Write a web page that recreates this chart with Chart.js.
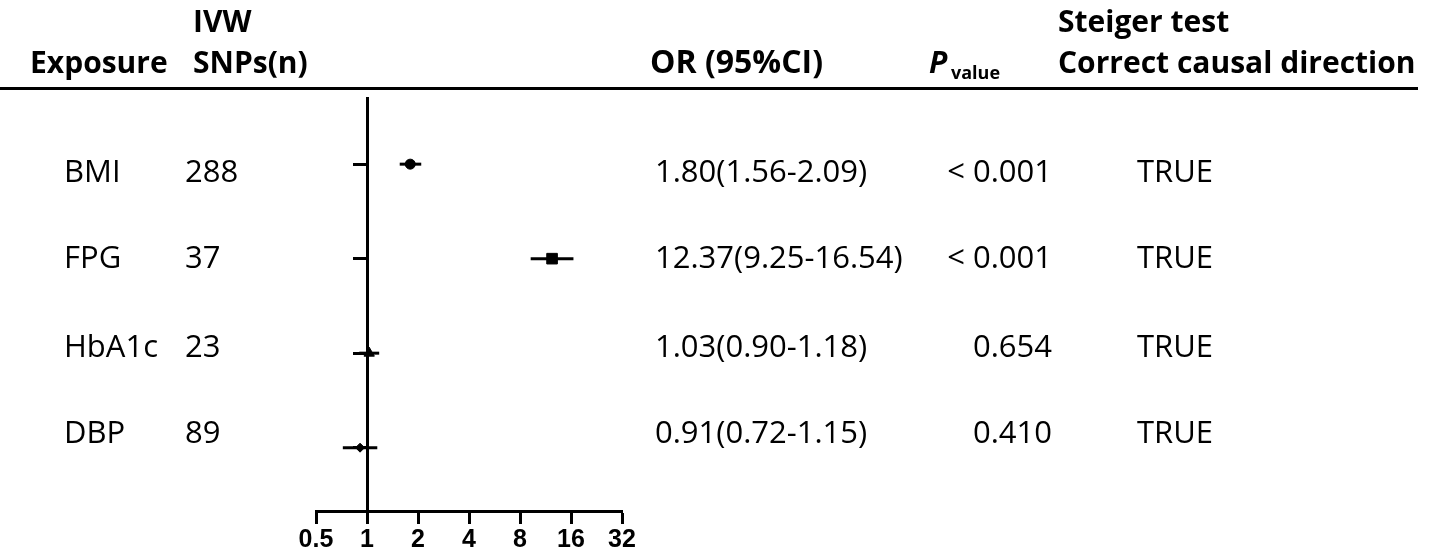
<!DOCTYPE html>
<html>
<head>
<meta charset="utf-8">
<script src="https://cdn.jsdelivr.net/npm/chart.js@4/dist/chart.umd.min.js"></script>
<style>
  html, body { margin: 0; padding: 0; background: #fff; }
  #wrap { position: relative; width: 1429px; height: 558px; }
</style>
</head>
<body>
<div id="wrap"><canvas id="forest"></canvas></div>
<script>
// 데이터
const exposures = ['BMI', 'FPG', 'HbA1c', 'DBP'];
const snpCounts = [288, 37, 23, 89];
const orValues = [1.80, 12.37, 1.03, 0.91];
const ciLower = [1.56, 9.25, 0.90, 0.72];
const ciUpper = [2.09, 16.54, 1.18, 1.15];
const pValues = ['< 0.001', '< 0.001', '0.654', '0.410'];
const steigerResults = ['TRUE', 'TRUE', 'TRUE', 'TRUE'];
const xTickValues = [0.5, 1, 2, 4, 8, 16, 32];

// 레이아웃 / 스타일
const BODY_FONT = '31px "Open Sans"';
const HEAD_FONT = 'bold 30px "Open Sans"';
const TEXT_BASELINES = [182, 268, 357, 443];
const markerStyles = ['circle', 'rect', 'triangle', 'rectRot'];
const markerRadius = [5, 7.5, 6, 4.5];

const rows = exposures.map((_, i) => i + 1);

// 신뢰구간 선: 행마다 하나의 line 데이터셋
const ciDatasets = rows.map((row, i) => ({
    type: 'line',
    data: [{ x: ciLower[i], y: row }, { x: ciUpper[i], y: row }],
    borderColor: '#000',
    borderWidth: 3,
    pointRadius: 0,
    fill: false
}));

const pointDataset = {
    type: 'scatter',
    data: rows.map((row, i) => ({ x: orValues[i], y: row })),
    pointStyle: markerStyles,
    pointRadius: markerRadius,
    backgroundColor: '#000',
    borderColor: '#000',
    borderWidth: 1
};

// 표 부분(헤더, 텍스트 열)을 그리는 플러그인
const tablePlugin = {
    id: 'tableText',
    afterDraw(chart) {
        const ctx = chart.ctx;
        ctx.save();
        ctx.fillStyle = '#000';
        ctx.textBaseline = 'alphabetic';

        // 헤더
        ctx.font = HEAD_FONT;
        ctx.textAlign = 'left';
        ctx.fillText('IVW', 193, 32);
        ctx.fillText('Exposure', 30, 73);
        ctx.fillText('SNPs(n)', 193, 73);
        ctx.fillText('Steiger test', 1058, 32);
        ctx.fillText('Correct causal direction', 1058, 73);
        ctx.font = 'bold 32px "Open Sans"';
        ctx.fillText('OR (95%CI)', 650, 73);
        ctx.font = 'italic bold 30px "Open Sans"';
        ctx.fillText('P', 929, 73);
        ctx.font = 'bold 18px "Open Sans"';
        ctx.fillText('value', 951, 79);

        // 헤더 아래 구분선
        ctx.strokeStyle = '#000';
        ctx.lineWidth = 3;
        ctx.beginPath();
        ctx.moveTo(0, 88.5);
        ctx.lineTo(1418, 88.5);
        ctx.stroke();

        // 행 텍스트
        ctx.font = BODY_FONT;
        exposures.forEach((name, i) => {
            const y = TEXT_BASELINES[i];
            const orText = `${orValues[i].toFixed(2)}(${ciLower[i].toFixed(2)}-${ciUpper[i].toFixed(2)})`;
            ctx.textAlign = 'left';
            ctx.fillText(name, 64, y);
            ctx.fillText(String(snpCounts[i]), 185, y);
            ctx.fillText(orText, 655, y);
            ctx.fillText(steigerResults[i], 1137, y);
            ctx.textAlign = 'right';
            ctx.fillText(pValues[i], 1052, y);
        });
        ctx.restore();
    }
};

new Chart(document.getElementById('forest'), {
    data: { datasets: [...ciDatasets, pointDataset] },
    options: {
        responsive: true,
        maintainAspectRatio: false,
        animation: false,
        events: [],
        layout: { padding: { left: 316, right: 807, top: 98, bottom: 0 } },
        plugins: { legend: { display: false }, tooltip: { enabled: false } },
        scales: {
            x: {
                type: 'logarithmic',
                position: 'bottom',
                min: 0.5,
                max: 32,
                afterBuildTicks(axis) {
                    axis.ticks = xTickValues.map(v => ({ value: v }));
                },
                afterFit(axis) {
                    axis.height = 47;
                },
                grid: {
                    drawOnChartArea: false,
                    color: '#000',
                    tickLength: 13,
                    tickWidth: 3
                },
                border: { display: true, color: '#000', width: 3 },
                ticks: {
                    autoSkip: false,
                    maxRotation: 0,
                    padding: 1,
                    color: '#000',
                    font: { family: '"Liberation Sans", Arial', weight: 'bold', size: 25 },
                    callback: v => String(v)
                }
            },
            y: {
                type: 'linear',
                position: { x: 1 },
                reverse: true,
                min: 0.3,
                max: 4.67,
                afterBuildTicks(axis) {
                    axis.ticks = rows.map(v => ({ value: v }));
                },
                afterFit(axis) {
                    axis.width = 0;
                },
                grid: {
                    drawOnChartArea: false,
                    color: '#000',
                    tickLength: 13,
                    tickWidth: 3
                },
                border: { display: true, color: '#000', width: 3 },
                ticks: { display: false }
            }
        }
    },
    plugins: [tablePlugin]
});
</script>
</body>
</html>
